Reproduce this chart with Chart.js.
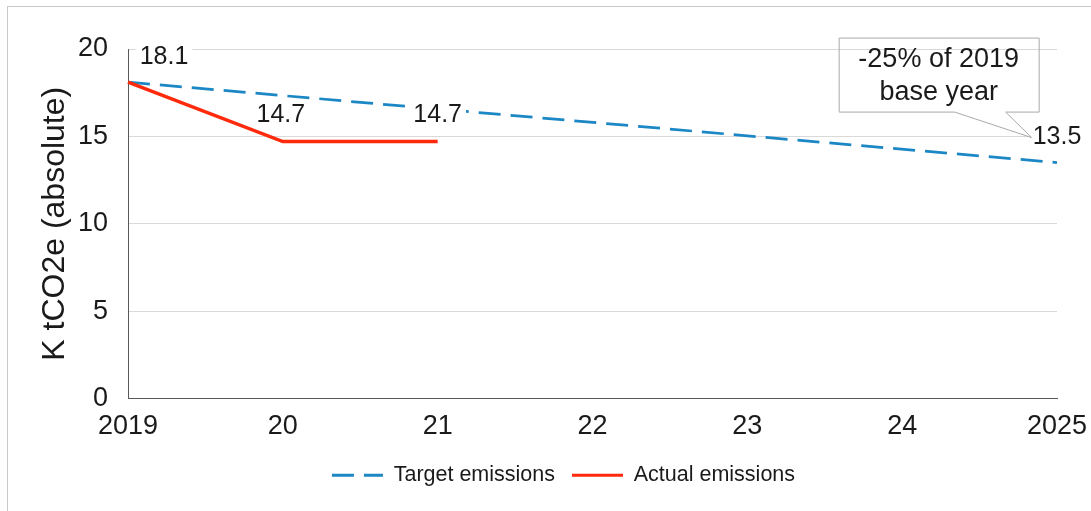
<!DOCTYPE html>
<html>
<head>
<meta charset="utf-8">
<script src="https://cdn.jsdelivr.net/npm/chart.js@4/dist/chart.umd.min.js"></script>
<style>
  html, body { margin: 0; padding: 0; background: #fff; }
  #wrap { position: relative; width: 1091px; height: 511px; overflow: hidden; }
  #frame { position: absolute; left: 7px; top: 6px; width: 1110px; height: 530px; border: 1px solid #c9c9c9; box-sizing: border-box; pointer-events: none; }
  canvas { position: absolute; left: 0; top: 0; }
</style>
</head>
<body>
<div id="wrap">
  <canvas id="chart" width="1091" height="511"></canvas>
  <div id="frame"></div>
</div>
<script>
// ===== Data =====
const years = ['2019', '20', '21', '22', '23', '24', '2025'];
const targetEmissions = [18.1, null, null, null, null, null, 13.5];
const actualEmissions = [18.1, 14.7, 14.7, null, null, null, null];
const yTicks = [0, 5, 10, 15, 20];
const calloutLines = ['-25% of 2019', 'base year'];

const BLUE = '#1b87c5';
const RED = '#ff2a0c';
const FONT = "'Liberation Sans', Arial, sans-serif";

Chart.defaults.font.family = FONT;
Chart.defaults.color = '#1a1a1a';

// which points get a value label, and where it sits relative to the point
const labelSpots = [
  { ds: 0, i: 0, dx: 36, dy: -25 },
  { ds: 0, i: 1, dx: -2, dy: -27 },
  { ds: 0, i: 2, dx: 0, dy: -27 },
  { ds: 1, i: 6, dx: 0, dy: -25 },
];

const valueLabels = {
  id: 'valueLabels',
  afterDatasetsDraw(chart) {
    const { ctx } = chart;
    ctx.save();
    ctx.font = '25px ' + FONT;
    ctx.textAlign = 'center';
    ctx.textBaseline = 'middle';
    for (const s of labelSpots) {
      const pt = chart.getDatasetMeta(s.ds).data[s.i];
      const v = chart.data.datasets[s.ds].data[s.i];
      const txt = v.toFixed(1);
      const x = pt.x + s.dx;
      const y = pt.y + s.dy;
      const w = ctx.measureText(txt).width;
      ctx.fillStyle = '#fff';
      ctx.fillRect(x - w / 2 - 4, y - 12, w + 8, 24);
      ctx.fillStyle = '#1a1a1a';
      ctx.fillText(txt, x, y);
    }
    ctx.restore();
  }
};

// callout box pointing at the 2025 target label
const callout = {
  id: 'callout',
  afterDatasetsDraw(chart) {
    const { ctx } = chart;
    const pt = chart.getDatasetMeta(1).data[6];
    ctx.save();
    ctx.font = '25px ' + FONT;
    const lw = ctx.measureText(targetEmissions[6].toFixed(1)).width;
    const tipX = pt.x - lw / 2 - 1;
    const tipY = pt.y - 25;
    const right = tipX + 7;
    const bottom = tipY - 26;
    const left = right - 200;
    const top = bottom - 74;
    const b1 = left + 116;
    const b2 = left + 167;
    ctx.strokeStyle = '#a9a9a9';
    ctx.lineWidth = 1;
    ctx.beginPath();
    ctx.moveTo(b1, bottom + 0.5);
    ctx.lineTo(left + 0.5, bottom + 0.5);
    ctx.lineTo(left + 0.5, top + 0.5);
    ctx.lineTo(right + 0.5, top + 0.5);
    ctx.lineTo(right + 0.5, bottom + 0.5);
    ctx.lineTo(b2, bottom + 0.5);
    ctx.lineTo(tipX, tipY);
    ctx.lineTo(b1, bottom + 0.5);
    ctx.stroke();
    ctx.font = '27px ' + FONT;
    ctx.fillStyle = '#1a1a1a';
    ctx.textAlign = 'center';
    ctx.textBaseline = 'middle';
    const cx = (left + right) / 2;
    ctx.fillText(calloutLines[0], cx, top + 22);
    ctx.fillText(calloutLines[1], cx, top + 55);
    ctx.restore();
  }
};

// nudge the legend to where it sits in the original
const legendShift = {
  id: 'legendShift',
  afterLayout(chart) {
    chart.legend.left += 35;
    chart.legend.right += 35;
  }
};

new Chart(document.getElementById('chart'), {
  type: 'line',
  data: {
    labels: years,
    datasets: [
      {
        label: 'Actual emissions',
        data: actualEmissions,
        borderColor: RED,
        backgroundColor: RED,
        borderWidth: 3.5,
        pointRadius: 0,
        tension: 0,
        spanGaps: false,
      },
      {
        label: 'Target emissions',
        data: targetEmissions,
        borderColor: BLUE,
        backgroundColor: BLUE,
        borderWidth: 2.75,
        borderDash: [22, 10],
        pointRadius: 0,
        tension: 0,
        spanGaps: true,
      },
    ],
  },
  options: {
    responsive: false,
    animation: false,
    events: [],
    layout: { padding: { top: 49, right: 34, left: 0, bottom: 15 } },
    scales: {
      x: {
        grid: { display: false },
        border: { display: true, color: '#595959', width: 1 },
        ticks: { font: { size: 27 }, color: '#1a1a1a', padding: 4, maxRotation: 0, autoSkip: false },
        afterFit: (s) => { s.height = 49; s.paddingLeft = 0; s.paddingRight = 0; },
      },
      y: {
        min: 0,
        max: 20,
        afterBuildTicks: (s) => { s.ticks = yTicks.map(v => ({ value: v })); },
        grid: { color: '#d9d9d9', drawTicks: false },
        border: { display: true, color: '#595959', width: 1 },
        ticks: { font: { size: 27 }, color: '#1a1a1a', padding: 20 },
        title: {
          display: true,
          text: 'K tCO2e (absolute)',
          font: { size: 32 },
          color: '#1a1a1a',
          padding: { top: 36, bottom: 0 },
        },
        afterFit: (s) => { s.width = 128; s.paddingTop = 0; s.paddingBottom = 0; },
      },
    },
    plugins: {
      legend: {
        position: 'bottom',
        labels: {
          usePointStyle: true,
          pointStyle: 'line',
          pointStyleWidth: 51,
          padding: 17,
          font: { size: 21.5 },
          color: '#1a1a1a',
          sort: (a, b) => b.datasetIndex - a.datasetIndex,
          generateLabels: (chart) => {
            const items = Chart.defaults.plugins.legend.labels.generateLabels(chart);
            for (const it of items) {
              const ds = chart.data.datasets[it.datasetIndex];
              it.lineDash = ds.borderDash || [];
              it.strokeStyle = ds.borderColor;
              it.lineWidth = 3;
              it.pointStyle = 'line';
            }
            return items;
          },
        },
      },
      tooltip: { enabled: false },
    },
  },
  plugins: [valueLabels, callout, legendShift],
});
</script>
</body>
</html>
